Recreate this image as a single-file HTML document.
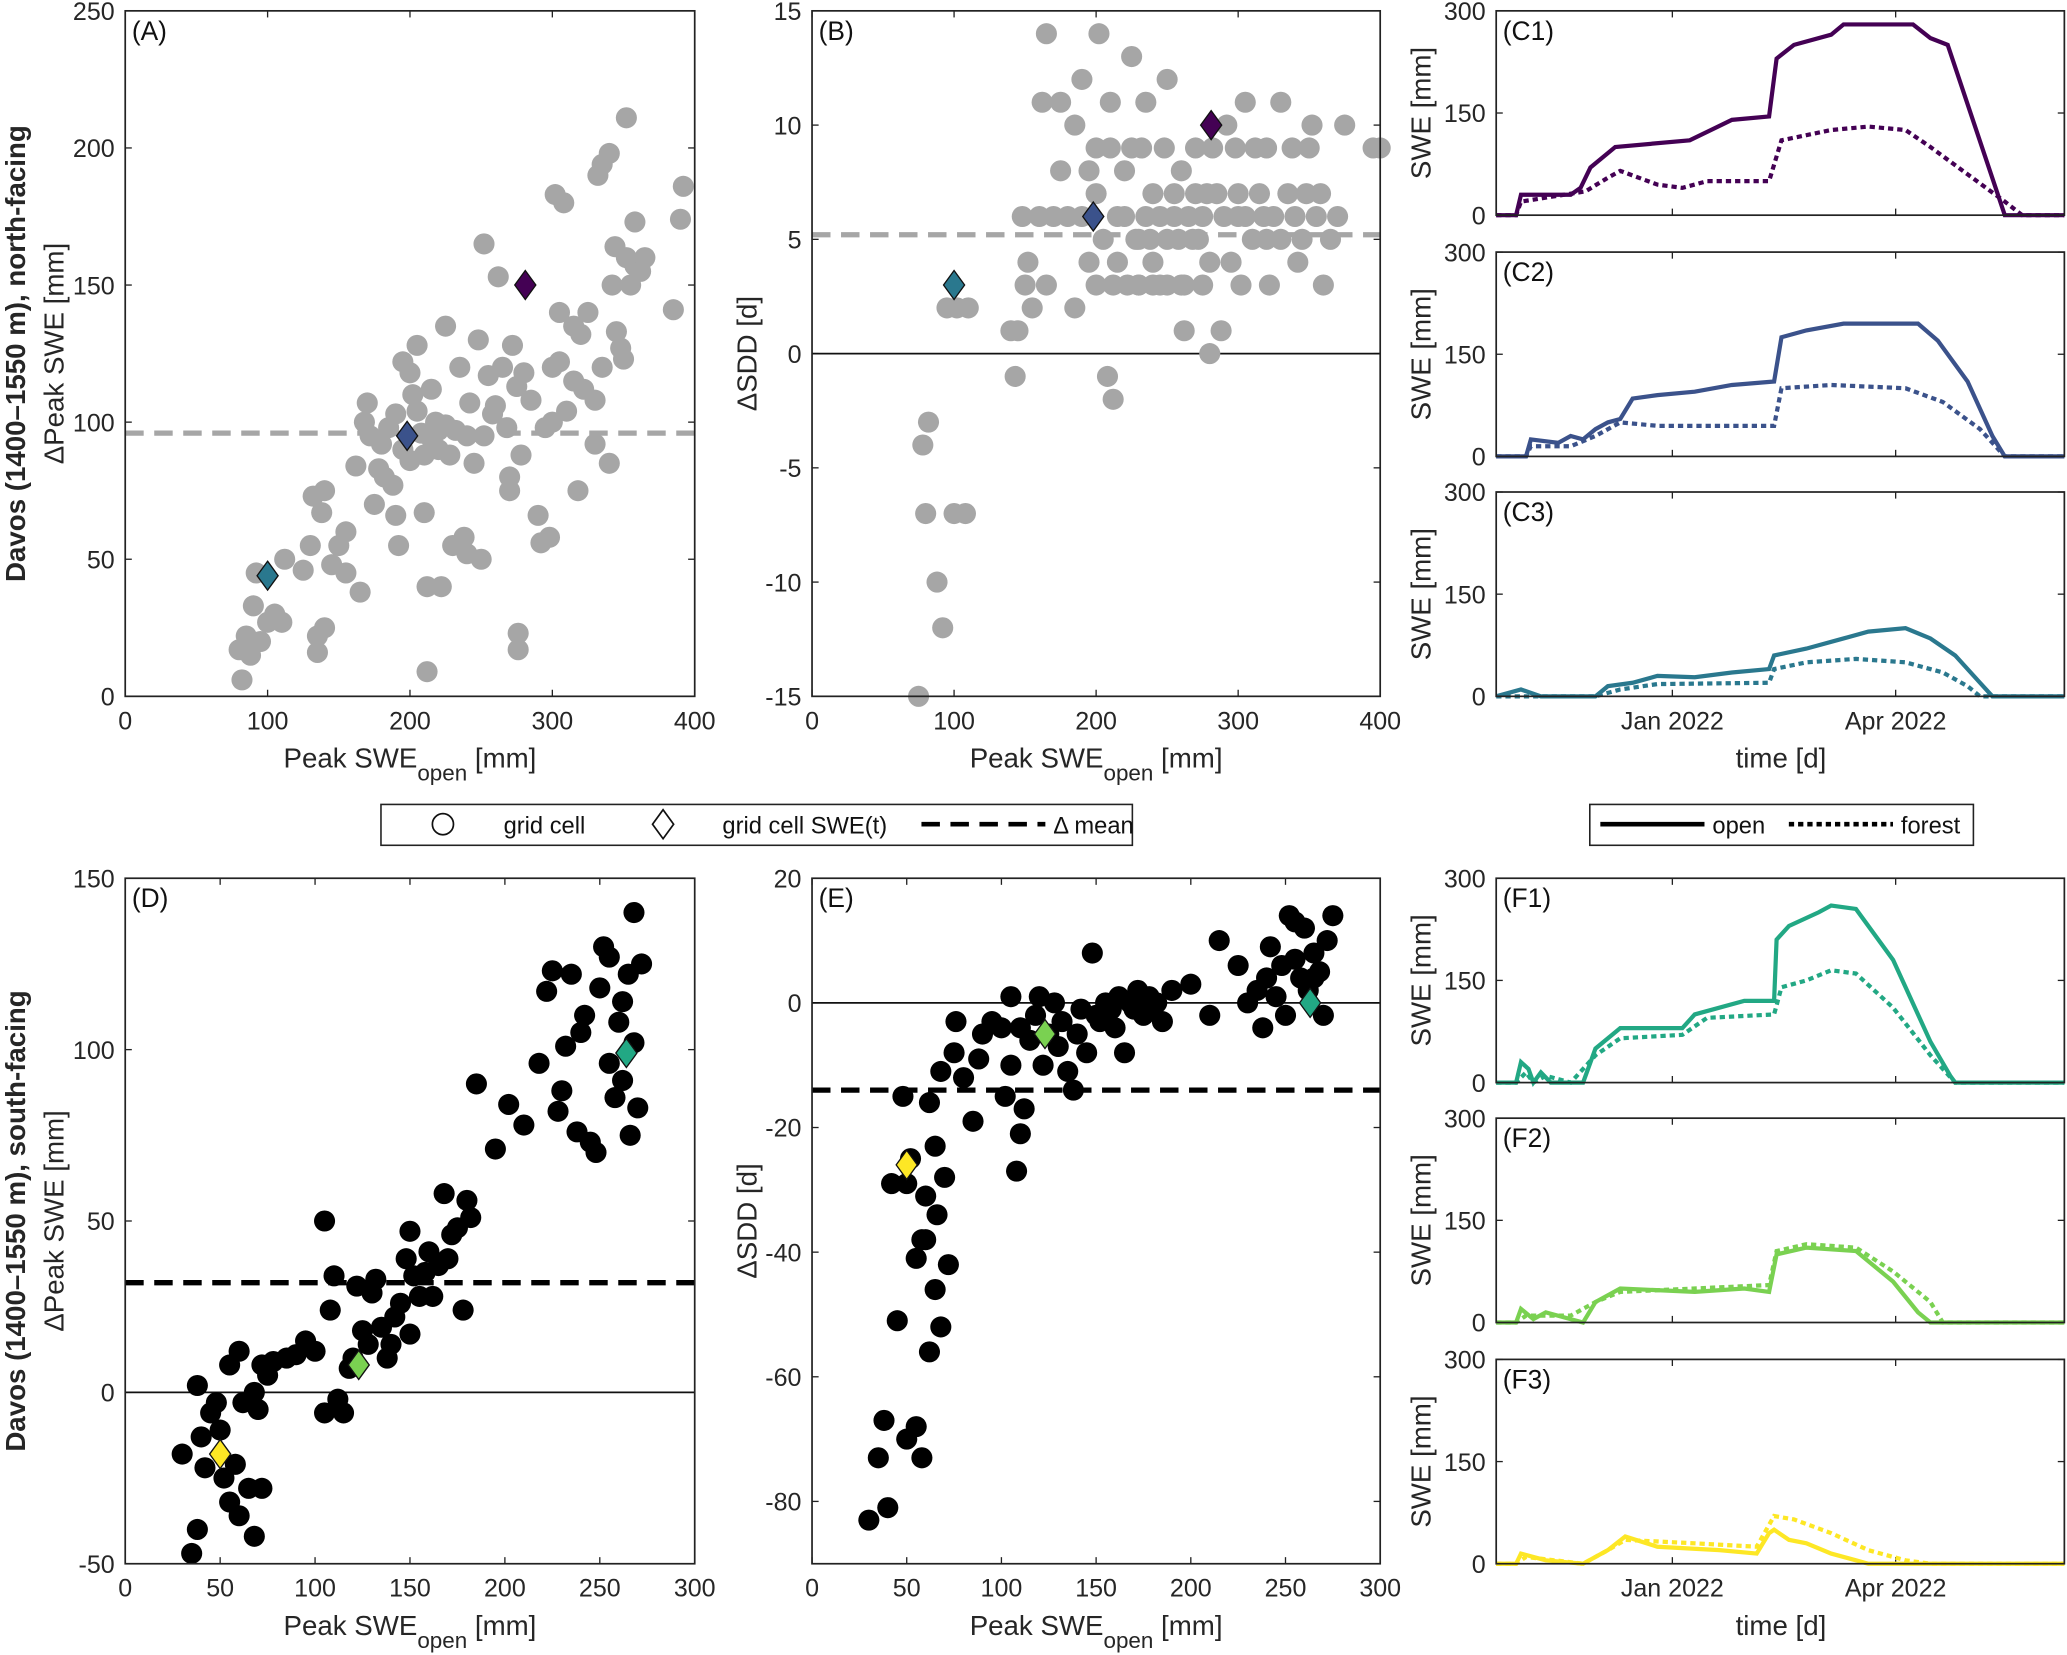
<!DOCTYPE html>
<html><head><meta charset="utf-8"><style>
html,body{margin:0;padding:0;background:#fff}
svg{display:block;font-family:"Liberation Sans",sans-serif}
</style></head><body>
<svg id="fig" width="2067" height="1655" viewBox="0 0 1568 1255" xmlns="http://www.w3.org/2000/svg"></svg>
<script>
// ---- data ----
const aPts=[[80,17],[82,6],[85,22],[88,15],[90,33],[92,45],[95,20],[100,27],[105,30],[110,27],[112,50],[125,46],[130,55],[132,73],[135,22],[135,16],[138,67],[140,75],[140,25],[145,48],[150,55],[155,45],[155,60],[162,84],[165,38],[168,100],[170,107],[172,95],[175,70],[178,83],[180,92],[182,80],[185,98],[188,77],[190,66],[190,103],[192,55],[195,90],[195,122],[200,118],[200,86],[202,110],[205,104],[205,128],[208,96],[210,88],[210,67],[212,40],[212,9],[215,112],[215,94],[218,100],[220,97],[220,90],[222,40],[225,135],[225,99],[228,88],[230,55],[232,97],[235,120],[238,58],[240,52],[240,95],[242,107],[245,85],[248,130],[250,50],[252,95],[252,165],[255,117],[258,103],[260,106],[262,153],[265,120],[268,98],[270,80],[270,75],[272,128],[275,113],[276,23],[276,17],[278,88],[280,118],[285,108],[290,66],[292,56],[295,98],[298,58],[300,120],[300,100],[302,183],[305,140],[305,122],[308,180],[310,104],[315,115],[315,135],[318,75],[320,132],[322,112],[325,140],[330,92],[330,108],[332,190],[335,194],[335,120],[340,198],[340,85],[342,150],[344,164],[345,133],[348,127],[350,123],[352,160],[352,211],[355,150],[358,173],[358,157],[362,155],[365,160],[385,141],[390,174],[392,186]];
const bPts=[[75,-15],[78,-4],[80,-7],[82,-3],[88,-10],[92,-12],[102,2],[100,-7],[108,-7],[95,2],[110,2],[140,1],[143,-1],[145,1],[150,3],[148,6],[152,4],[155,2],[160,6],[162,11],[165,14],[165,3],[170,6],[175,11],[175,8],[180,6],[185,10],[185,2],[190,12],[190,6],[195,8],[195,4],[200,9],[200,7],[200,3],[202,14],[205,5],[208,-1],[210,11],[210,9],[212,3],[212,-2],[215,6],[215,4],[220,8],[220,6],[222,3],[225,13],[225,9],[228,5],[230,5],[230,3],[232,9],[235,6],[235,11],[238,5],[240,7],[240,4],[245,6],[245,3],[248,9],[250,5],[250,12],[255,6],[255,7],[258,5],[260,8],[262,3],[262,1],[265,6],[268,5],[270,9],[270,7],[272,5],[275,6],[275,3],[278,7],[280,4],[280,0],[282,9],[285,7],[288,1],[290,6],[292,10],[295,4],[298,9],[300,6],[300,7],[302,3],[305,11],[305,6],[310,5],[312,9],[315,7],[318,6],[320,9],[322,3],[325,6],[330,11],[330,5],[335,7],[338,9],[340,6],[342,4],[345,5],[348,7],[350,9],[352,10],[355,6],[358,7],[360,3],[365,5],[370,6],[375,10],[395,9],[400,9],[250,3],[260,3],[320,5],[230,3],[240,3]];
const dPts=[[30,-18],[35,-47],[38,-40],[38,2],[40,-13],[42,-22],[45,-6],[48,-3],[50,-11],[52,-25],[55,-32],[55,8],[58,-21],[60,-36],[60,12],[62,-3],[65,-28],[68,-42],[68,0],[70,-5],[72,-28],[72,8],[75,5],[78,9],[85,10],[90,11],[95,15],[100,12],[105,-6],[105,50],[108,24],[110,34],[112,-2],[115,-6],[118,7],[120,10],[122,31],[125,18],[128,14],[130,29],[132,33],[135,19],[138,10],[140,14],[142,22],[145,26],[148,39],[150,47],[150,17],[152,34],[155,28],[158,35],[160,41],[162,28],[165,37],[168,58],[170,39],[172,46],[175,48],[178,24],[180,56],[182,51],[185,90],[195,71],[202,84],[210,78],[218,96],[222,117],[225,123],[228,82],[230,88],[232,101],[235,122],[238,76],[240,105],[242,110],[245,73],[248,70],[250,118],[252,130],[255,127],[258,86],[260,108],[262,91],[265,122],[268,140],[270,83],[272,125],[268,102],[266,75],[262,114],[255,96]];
const ePts=[[30,-83],[35,-73],[38,-67],[40,-81],[42,-29],[45,-51],[48,-15],[50,-70],[50,-29],[52,-25],[55,-68],[55,-41],[58,-73],[58,-38],[60,-38],[60,-31],[62,-56],[62,-16],[65,-46],[65,-23],[66,-34],[68,-52],[68,-11],[70,-28],[72,-42],[75,-8],[76,-3],[80,-12],[85,-19],[88,-9],[90,-5],[95,-3],[100,-4],[102,-15],[105,1],[105,-10],[108,-27],[110,-21],[110,-4],[112,-17],[115,-6],[118,-2],[120,1],[122,-10],[125,-5],[128,0],[130,-7],[132,-3],[135,-11],[138,-14],[140,-5],[142,-1],[145,-8],[148,8],[150,-2],[152,-3],[155,0],[158,-1],[160,-4],[162,1],[165,-8],[168,0],[170,-1],[172,2],[175,-2],[178,1],[180,-1],[182,0],[185,-3],[190,2],[200,3],[210,-2],[215,10],[225,6],[230,0],[235,2],[238,-4],[240,4],[242,9],[245,1],[248,6],[250,-2],[252,14],[255,13],[258,4],[260,12],[262,2],[265,8],[268,5],[270,-2],[272,10],[275,14],[265,4],[255,7]];
const aDia=[[100,44],[198,95],[281,150]];
const bDia=[[100,3],[198,6],[281,10]];
const dDia=[[50,-18],[123,8],[264,99]];
const eDia=[[50,-26],[123,-5],[263,0]];
const northColors=["#2a788e","#3b528b","#440154"];
const southColors=["#fde725","#7ad151","#22a884"];
const meanA=96, meanB=5.2, meanD=32, meanE=-14;
const c1Open=[[0,0],[8,0],[10,30],[30,30],[34,40],[38,70],[48,100],[78,110],[95,140],[110,145],[113,230],[120,250],[135,265],[140,280],[168,280],[175,260],[182,250],[205,0],[229,0]];
const c1For=[[0,0],[8,0],[10,20],[36,35],[45,55],[50,65],[65,45],[75,40],[85,50],[110,50],[115,110],[135,125],[150,130],[165,125],[175,100],[190,60],[205,20],[212,0],[229,0]];
const c2Open=[[0,0],[12,0],[14,25],[25,20],[30,30],[35,25],[40,40],[45,50],[50,55],[55,85],[65,90],[80,95],[95,105],[112,110],[115,175],[125,185],[140,195],[170,195],[178,170],[190,110],[200,30],[205,0],[229,0]];
const c2For=[[0,0],[12,0],[14,15],[30,15],[40,30],[50,50],[65,45],[112,45],[115,100],[135,105],[165,100],[180,80],[195,40],[205,0],[229,0]];
const c3Open=[[0,0],[10,10],[18,0],[40,0],[45,15],[55,20],[65,30],[80,28],[95,35],[110,40],[112,60],[125,70],[140,85],[150,95],[165,100],[175,85],[185,60],[195,20],[200,0],[229,0]];
const c3For=[[0,0],[40,0],[50,10],[65,18],[110,20],[112,40],[125,50],[145,55],[165,50],[180,35],[190,15],[195,0],[229,0]];
const f1Open=[[0,0],[8,0],[10,30],[13,20],[15,0],[18,15],[22,0],[35,0],[40,50],[50,80],[75,80],[80,100],[100,120],[112,120],[113,210],[118,230],[130,250],[135,260],[145,255],[160,180],[175,60],[183,10],[185,0],[229,0]];
const f1For=[[0,0],[8,0],[12,15],[15,0],[20,10],[30,0],[40,40],[50,65],[75,70],[85,95],[112,100],[115,140],[125,150],[135,165],[145,160],[160,110],[175,40],[185,0],[229,0]];
const f2Open=[[0,0],[8,0],[10,20],[15,5],[20,15],[35,0],[40,30],[50,50],[80,45],[100,50],[110,45],[113,100],[125,110],[145,105],[160,60],[170,15],[175,0],[229,0]];
const f2For=[[0,0],[8,0],[12,10],[30,10],[40,30],[50,45],[80,50],[110,55],[113,105],[125,115],[145,110],[160,75],[175,30],[180,0],[229,0]];
const f3Open=[[0,0],[8,0],[10,15],[20,5],[35,0],[45,20],[52,40],[65,25],[90,20],[105,15],[110,45],[112,50],[118,35],[125,30],[135,15],[145,5],[150,0],[229,0]];
const f3For=[[0,0],[8,0],[12,10],[35,0],[45,20],[52,35],[80,30],[105,25],[112,70],[120,65],[135,45],[150,20],[165,5],[175,0],[229,0]];
const timeTicks=[[71,"Jan 2022"],[161,"Apr 2022"]];
const sweTicks=[0,150,300];

const svg=document.getElementById('fig');
const NS="http://www.w3.org/2000/svg";
function el(tag,attrs,parent,text){const e=document.createElementNS(NS,tag);for(const k in attrs)e.setAttribute(k,attrs[k]);if(text!==undefined)e.textContent=text;(parent||svg).appendChild(e);return e;}

function axes(name,x0,y0,w,h,xd,yd,xticks,yticks,tickFmt){
  const g=el('g',{},svg);
  
  
  const sx=v=>x0+(v-xd[0])/(xd[1]-xd[0])*w;
  const sy=v=>y0+h-(v-yd[0])/(yd[1]-yd[0])*h;
  const tg=el('g',{},g);
  
  
  if(xticks) xticks.forEach(t=>{const v=Array.isArray(t)?t[0]:t,l=Array.isArray(t)?t[1]:t;
    el('line',{x1:sx(v),x2:sx(v),y1:y0+h,y2:y0+h-5,stroke:'#222','stroke-width':1},tg);
    el('line',{x1:sx(v),x2:sx(v),y1:y0,y2:y0+5,stroke:'#222','stroke-width':1},tg);
    if(l!==null) el('text',{x:sx(v),y:y0+h+25,'text-anchor':'middle','font-size':19,fill:'#262626'},tg,l);});
  yticks.forEach(v=>{
    el('line',{x1:x0,x2:x0+5,y1:sy(v),y2:sy(v),stroke:'#222','stroke-width':1},tg);
    el('line',{x1:x0+w,x2:x0+w-5,y1:sy(v),y2:sy(v),stroke:'#222','stroke-width':1},tg);
    el('text',{x:x0-8,y:sy(v)+7,'text-anchor':'end','font-size':19,fill:'#262626'},tg,v);});
  return {g,sx,sy,x0,y0,w,h,frame(){const r=el('rect',{x:x0,y:y0,width:w,height:h,fill:'none',stroke:'#222','stroke-width':1.3},g);}};
}
function label(ax,txt){const t=el('text',{x:ax.x0+5,y:ax.y0+22,'font-size':20,fill:'#111'},ax.g,txt);}
function hline(ax,v,dash,color,wid){const l=el('line',{x1:ax.x0,x2:ax.x0+ax.w,y1:ax.sy(v),y2:ax.sy(v),stroke:color,'stroke-width':wid,'stroke-dasharray':dash||'none'},ax.g);}
function scatter(ax,pts,color){pts.forEach(p=>{const c=el('circle',{cx:ax.sx(p[0]),cy:ax.sy(p[1]),r:8,fill:color},ax.g);});}
function diamonds(ax,pts,cols){pts.forEach((p,i)=>{const x=ax.sx(p[0]),y=ax.sy(p[1]);const d=el('polygon',{points:`${x},${y-11} ${x+8},${y} ${x},${y+11} ${x-8},${y}`,fill:cols[i],stroke:'#111','stroke-width':1},ax.g);});}
function xlabelSWE(ax){const t=el('text',{x:ax.x0+ax.w/2,y:ax.y0+ax.h+54,'text-anchor':'middle','font-size':21,fill:'#262626'},ax.g);
  el('tspan',{},t,'Peak SWE');el('tspan',{'baseline-shift':'sub','font-size':17},t,'open');el('tspan',{},t,' [mm]');}
function ylabel(ax,txt,off,bold,name){const x=ax.x0-off,y=ax.y0+ax.h/2;const t=el('text',{x:x,y:y,transform:`rotate(-90 ${x} ${y})`,'text-anchor':'middle','font-size':bold?21:21,'font-weight':bold?'bold':'normal',fill:'#262626'},ax.g,txt);}
function series(ax,pts,color,dashed){const d=pts.map((p,i)=>(i?'L':'M')+ax.sx(p[0]).toFixed(1)+','+ax.sy(p[1]).toFixed(1)).join(' ');const p=el('path',{d:d,fill:'none',stroke:color,'stroke-width':3.2,'stroke-dasharray':dashed?'4 3':'none'},ax.g);}

// Panel A
let A=axes('panel-a',95,8,432,520,[0,400],[0,250],[0,100,200,300,400],[0,50,100,150,200,250]);
scatter(A,aPts,'#a6a6a6');hline(A,meanA,'14 8','#a6a6a6',4);diamonds(A,aDia,northColors);A.frame();label(A,'(A)');xlabelSWE(A);
ylabel(A,'ΔPeak SWE [mm]',47,false);ylabel(A,'Davos (1400–1550 m), north-facing',76,true,'row-title-north');
// Panel B
let B=axes('panel-b',616,8,431,520,[0,400],[-15,15],[0,100,200,300,400],[-15,-10,-5,0,5,10,15]);
hline(B,0,null,'#111',1.3);scatter(B,bPts,'#a6a6a6');hline(B,meanB,'14 8','#a6a6a6',4);diamonds(B,bDia,northColors);B.frame();label(B,'(B)');xlabelSWE(B);
ylabel(B,'ΔSDD [d]',42,false);
// Panel D
let D=axes('panel-d',95,666,432,520,[0,300],[-50,150],[0,50,100,150,200,250,300],[-50,0,50,100,150]);
hline(D,0,null,'#111',1.3);scatter(D,dPts,'#000');hline(D,meanD,'14 8','#000',4);diamonds(D,dDia,southColors);D.frame();label(D,'(D)');xlabelSWE(D);
ylabel(D,'ΔPeak SWE [mm]',47,false);ylabel(D,'Davos (1400–1550 m), south-facing',76,true,'row-title-south');
// Panel E
let E=axes('panel-e',616,666,431,520,[0,300],[-90,20],[0,50,100,150,200,250,300],[-80,-60,-40,-20,0,20]);
hline(E,0,null,'#111',1.3);scatter(E,ePts,'#000');hline(E,meanE,'14 8','#000',4);diamonds(E,eDia,southColors);E.frame();label(E,'(E)');xlabelSWE(E);
ylabel(E,'ΔSDD [d]',42,false);

// time series panels
const tsPanels=[['panel-c1',8,c1Open,c1For,'#440154','(C1)',false],['panel-c2',191,c2Open,c2For,'#3b528b','(C2)',false],['panel-c3',373,c3Open,c3For,'#2a788e','(C3)',true],
 ['panel-f1',666,f1Open,f1For,'#22a884','(F1)',false],['panel-f2',848,f2Open,f2For,'#7ad151','(F2)',false],['panel-f3',1031,f3Open,f3For,'#fde725','(F3)',true]];
tsPanels.forEach(p=>{
  const ax=axes(p[0],1135,p[1],431,155,[0,229],[0,300],timeTicks.map(t=>[t[0],p[6]?t[1]:null]),sweTicks);
  series(ax,p[3],p[4],true);series(ax,p[2],p[4],false);ax.frame();label(ax,p[5]);ylabel(ax,'SWE [mm]',50,false);
  if(p[6]){const t=el('text',{x:1351,y:p[1]+155+54,'text-anchor':'middle','font-size':21,fill:'#262626'},ax.g,'time [d]');}
});

// legends
const lg=el('g',{},svg);


el('rect',{x:289,y:610,width:570,height:31,fill:'#fff',stroke:'#222','stroke-width':1.2},lg);
el('circle',{cx:336,cy:625,r:8,fill:'none',stroke:'#111','stroke-width':1.3},lg);
el('text',{x:382,y:632,'font-size':18,fill:'#111'},lg,'grid cell');
el('polygon',{points:'503,614 511,625 503,636 495,625',fill:'none',stroke:'#111','stroke-width':1.3},lg);
el('text',{x:548,y:632,'font-size':18,fill:'#111'},lg,'grid cell SWE(t)');
el('line',{x1:699,x2:793,y1:625,y2:625,stroke:'#000','stroke-width':3.5,'stroke-dasharray':'14 8'},lg);
el('text',{x:799,y:632,'font-size':18,fill:'#111'},lg,'Δ mean');
const lg2=el('g',{},svg);


el('rect',{x:1206,y:610,width:291,height:31,fill:'#fff',stroke:'#222','stroke-width':1.2},lg2);
el('line',{x1:1214,x2:1293,y1:625,y2:625,stroke:'#000','stroke-width':3.5},lg2);
el('text',{x:1299,y:632,'font-size':18,fill:'#111'},lg2,'open');
el('line',{x1:1357,x2:1436,y1:625,y2:625,stroke:'#000','stroke-width':3.5,'stroke-dasharray':'4 3'},lg2);
el('text',{x:1442,y:632,'font-size':18,fill:'#111'},lg2,'forest');
</script>
</body></html>
